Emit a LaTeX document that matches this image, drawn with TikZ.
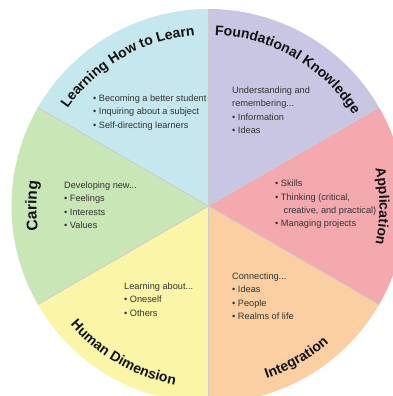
\documentclass[tikz,border=0pt]{standalone}
\usepackage{fontspec}
\setmainfont{Liberation Sans}
\usetikzlibrary{decorations.text}
\definecolor{cLearn}{HTML}{C5E7EE}
\definecolor{cFound}{HTML}{C9C6E3}
\definecolor{cAppl}{HTML}{F4A9AF}
\definecolor{cInteg}{HTML}{FBCFA1}
\definecolor{cHuman}{HTML}{FAF5A7}
\definecolor{cCaring}{HTML}{C9E6B6}
\definecolor{cTitle}{HTML}{111111}
\definecolor{cBody}{HTML}{333333}
\newcommand\titlefnt{\fontsize{14}{16}\selectfont\bfseries}
\newcommand\bigtitlefnt{\fontsize{15.5}{17}\selectfont\bfseries}
\newcommand\bodyfnt{\fontsize{9.2}{13.3}\selectfont}
\tikzset{
  body/.style={font=\bodyfnt, align=left, inner sep=0pt, text=cBody, anchor=north west},
  divider/.style={draw=black!20, line width=0.8pt},
  toptitle/.style={decorate, decoration={text along path, text align=center, text color=cTitle, text={|\titlefnt|#1}}},
  bigtitle/.style={decorate, decoration={text along path, text align=center, text color=cTitle, text={|\bigtitlefnt|#1}}},
}
\begin{document}
\begin{tikzpicture}[x=1pt,y=1pt]
\useasboundingbox (0,0) rectangle (393,396);
\clip (0,0) rectangle (393,396);
\fill[white] (0,0) rectangle (393,396);
\coordinate (C) at (208.5,190);
% sectors
\fill[cLearn]  (C) -- ++(90:197)  arc[start angle=90,  end angle=150, radius=197] -- cycle;
\fill[cCaring] (C) -- ++(150:197) arc[start angle=150, end angle=210, radius=197] -- cycle;
\fill[cHuman]  (C) -- ++(210:197) arc[start angle=210, end angle=270, radius=197] -- cycle;
\fill[cInteg]  (C) -- ++(270:197) arc[start angle=270, end angle=330, radius=197] -- cycle;
\fill[cAppl]   (C) -- ++(-30:197) arc[start angle=-30, end angle=30,  radius=197] -- cycle;
\fill[cFound]  (C) -- ++(30:197)  arc[start angle=30,  end angle=90,  radius=197] -- cycle;
% dividers
\foreach \a in {90,150,210,270,330,30} \draw[divider] (C) -- ++(\a:197);
% titles
\path[toptitle={Learning How to Learn}] (C) ++(160:171) arc[start angle=160, end angle=80, radius=171];
\path[toptitle={Foundational Knowledge}] (C) ++(100:171) arc[start angle=100, end angle=20, radius=171];
\path[toptitle={Application}] (C) ++(40:171) arc[start angle=40, end angle=-40, radius=171];
\path[bigtitle={Caring}] (C) ++(220:172) arc[start angle=220, end angle=140, radius=172];
\path[toptitle={Integration}] (C) ++(-100:182) arc[start angle=-100, end angle=-20, radius=182];
\path[toptitle={Human Dimension}] (C) ++(-160:182) arc[start angle=-160, end angle=-80, radius=182];
% body texts
\node[body] (tLearn) at (93,301.3) {• Becoming a better student\\• Inquiring about a subject\\• Self-directing learners};
\node[body] (tFound) at (232,309.3) {Understanding and\\remembering...\\• Information\\• Ideas};
\node[body] (tAppl) at (275,216) {• Skills\\• Thinking (critical,\\\hspace*{8.5pt}creative, and practical)\\• Managing projects};
\node[body] (tInteg) at (232,123.3) {Connecting...\\• Ideas\\• People\\• Realms of life};
\node[body] (tHuman) at (124,113.3) {Learning about...\\• Oneself\\• Others};
\node[body] (tCaring) at (64,214.3) {Developing new...\\• Feelings\\• Interests\\• Values};
\end{tikzpicture}
\end{document}
